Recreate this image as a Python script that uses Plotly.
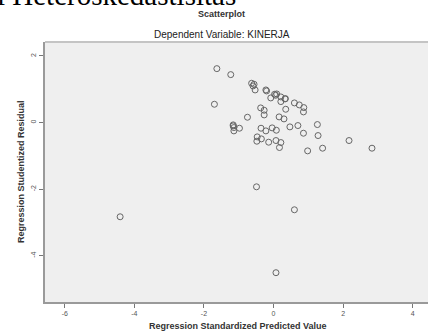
import plotly.graph_objects as go

# Regression Standardized Predicted Value (x) and Studentized Residual (y)
pred_x = [-1.63, -1.23, -1.70, -0.63, -0.56, -0.53, -0.22, 0.03, 0.09, 0.06, -0.08,
          0.21, 0.33, 0.21, 0.60, 0.74, 0.87, 0.86, 0.35, -0.37, -0.27, -0.27,
          -0.75, 0.16, 0.30, -1.16, -1.16, -1.14, -0.98, -1.14, -0.36, -0.22,
          -0.04, 0.08, 0.47, 0.70, 1.26, 0.86, 1.28, -0.47, -0.35, -0.48, -0.14,
          0.07, 0.21, 0.17, 0.98, 1.41, 2.17, 2.83, -0.49, -4.41, 0.60, 0.07,
          -0.59, 0.34, -0.20]
resid_y = [1.62, 1.44, 0.55, 1.18, 1.15, 0.98, 0.98, 0.85, 0.86, 0.82, 0.74,
           0.77, 0.71, 0.63, 0.59, 0.53, 0.45, 0.32, 0.40, 0.44, 0.37, 0.23,
           0.16, 0.17, 0.11, -0.07, -0.10, -0.15, -0.17, -0.25, -0.17, -0.25,
           -0.16, -0.23, -0.13, -0.09, -0.06, -0.32, -0.39, -0.43, -0.49, -0.56,
           -0.59, -0.54, -0.60, -0.75, -0.85, -0.77, -0.54, -0.77, -1.93, -2.83,
           -2.62, -4.51, 1.10, 0.72, 0.95]

x_ticks = [-6, -4, -2, 0, 2, 4]
y_ticks = [-4, -2, 0, 2]

W, H = 428, 332
ML, MR, MT, MB = 45, 0, 42, 30
PW, PH = W - ML - MR, H - MT - MB

def px_x(p):
    return (p - ML) / PW

def px_y(p):
    return 1 - (p - MT) / PH

fig = go.Figure()
fig.add_trace(go.Scatter(
    x=pred_x, y=resid_y, mode="markers",
    marker=dict(symbol="circle-open", size=6, color="#666666", line=dict(width=1)),
    showlegend=False, cliponaxis=False,
))

axis_font = dict(family="Liberation Sans, Arial, sans-serif", size=7, color="#555555")
fig.update_layout(
    width=W, height=H,
    margin=dict(l=ML, r=MR, t=MT, b=MB),
    paper_bgcolor="white",
    plot_bgcolor="#efefef",
    xaxis=dict(range=[-6.57, 4.44], tickvals=x_ticks, ticktext=[str(v) for v in x_ticks],
               showgrid=False, zeroline=False, showline=True, linecolor="#9a9a9a",
               linewidth=2, ticks="outside", ticklen=4, tickcolor="#777777",
               tickfont=axis_font, fixedrange=True, automargin=False),
    yaxis=dict(range=[-5.39, 2.42], tickvals=y_ticks, ticktext=[str(v) for v in y_ticks],
               showgrid=False, zeroline=False, showline=True, linecolor="#9a9a9a",
               linewidth=2, ticks="outside", ticklen=4, tickcolor="#777777",
               tickfont=axis_font, tickangle=-90, fixedrange=True, automargin=False),
)

# top border of the chart frame
fig.add_shape(type="line", xref="paper", yref="paper", x0=0, x1=1, y0=1, y1=1,
              line=dict(color="#c4c4c4", width=2))

annots = [
    dict(text="Uji Heteroskedastisitas", x=px_x(238), y=px_y(13), xanchor="right",
         yanchor="bottom", font=dict(family="Liberation Serif, Times New Roman, serif",
                                     size=29, color="black")),
    dict(text="<b>Scatterplot</b>", x=px_x(221), y=px_y(14), xanchor="center",
         yanchor="middle", font=dict(family="Liberation Sans, Arial, sans-serif",
                                     size=9, color="#333333")),
    dict(text="Dependent Variable: KINERJA", x=px_x(222), y=px_y(34), xanchor="center",
         yanchor="middle", font=dict(family="Liberation Sans, Arial, sans-serif",
                                     size=10, color="#222222")),
    dict(text="<b>Regression Standardized Predicted Value</b>", x=px_x(238), y=px_y(326),
         xanchor="center", yanchor="middle",
         font=dict(family="Liberation Sans, Arial, sans-serif", size=9, color="#333333")),
    dict(text="<b>Regression Studentized Residual</b>", x=px_x(21), y=px_y(172),
         xanchor="center", yanchor="middle", textangle=-90,
         font=dict(family="Liberation Sans, Arial, sans-serif", size=9, color="#333333")),
]
for a in annots:
    fig.add_annotation(xref="paper", yref="paper", showarrow=False, **a)

fig.write_html("out.html", config={"displayModeBar": False},
               post_script="document.body.style.margin='0';document.body.style.overflow='hidden';")
